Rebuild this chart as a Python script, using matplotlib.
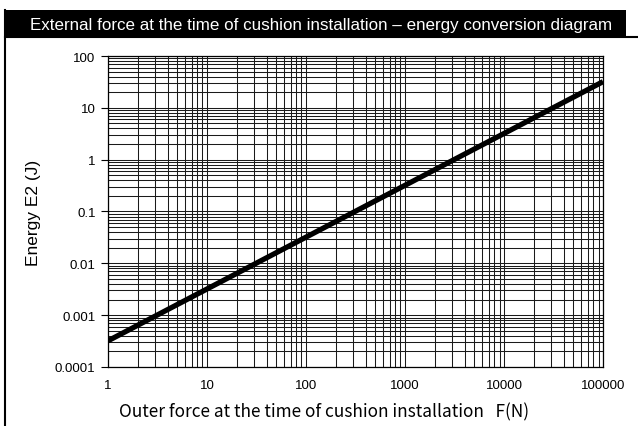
import matplotlib.pyplot as plt
from matplotlib.patches import Rectangle
from matplotlib.lines import Line2D
from matplotlib.ticker import LogLocator, FixedLocator, NullFormatter

force = [1, 100000]
energie = [0.00032, 32]
xticks = [1, 10, 100, 1000, 10000, 100000]
xlabels = ['1', '10', '100', '1000', '10000', '100000']
yticks = [0.0001, 0.001, 0.01, 0.1, 1, 10, 100]
ylabels = ['0.0001', '0.001', '0.01', '0.1', '1', '10', '100']
titre = 'External force at the time of cushion installation \u2013 energy conversion diagram'

fig = plt.figure(figsize=(6.38, 4.27), dpi=100)
ax = fig.add_axes([0.1693, 0.1382, 0.7759, 0.7283])

ax.set_xscale('log')
ax.set_yscale('log')
ax.set_xlim(1, 100000)
ax.set_ylim(0.0001, 100)

ax.xaxis.set_major_locator(FixedLocator(xticks))
ax.yaxis.set_major_locator(FixedLocator(yticks))
ax.xaxis.set_minor_locator(LogLocator(base=10, subs=range(2, 10), numticks=20))
ax.yaxis.set_minor_locator(LogLocator(base=10, subs=range(2, 10), numticks=20))
ax.xaxis.set_minor_formatter(NullFormatter())
ax.yaxis.set_minor_formatter(NullFormatter())
ax.set_xticklabels(xlabels, family='Liberation Sans', fontsize=9.5)
ax.set_yticklabels(ylabels, family='Liberation Sans', fontsize=9.5)
ax.tick_params(axis='x', which='both', length=0, pad=9)
ax.tick_params(axis='y', which='major', length=5, width=0.8, pad=4)
ax.tick_params(axis='y', which='minor', length=0)

ax.grid(True, which='both', color='#1a1a1a', linewidth=0.75)
for s in ax.spines.values():
    s.set_linewidth(0.9)

ax.plot(force, energie, color='black', linewidth=3.8, solid_capstyle='butt', zorder=5)

ax.set_xlabel('Outer force at the time of cushion installation   F(N)',
              family=['Noto Sans CJK JP', 'DejaVu Sans'], fontsize=12.4)
ax.xaxis.set_label_coords(0.436, -0.113)
ax.set_ylabel('Energy E2 (J)', family='Liberation Sans', fontsize=12.5, labelpad=10)

# bandeau du titre et cadre
fig.patches.append(Rectangle((0.0078, 0.911), 0.9734, 0.0632, transform=fig.transFigure,
                             facecolor='black', edgecolor='none'))
t = fig.text(0.503, 0.941, titre, color='white', fontsize=14, ha='center', va='center',
             family='Liberation Sans')
# ajuster la taille pour que le titre tienne dans le bandeau (~587 px)
r = fig.canvas.get_renderer()
w = t.get_window_extent(renderer=r).width
t.set_fontsize(14 * 587 / w)

fig.lines.append(Line2D([0.0078, 1.0], [0.911, 0.911], transform=fig.transFigure,
                        color='black', linewidth=1.5))
fig.lines.append(Line2D([0.0078, 0.0078], [0.0, 0.974], transform=fig.transFigure,
                        color='black', linewidth=1.5))

fig.savefig('out.png', dpi=100)
